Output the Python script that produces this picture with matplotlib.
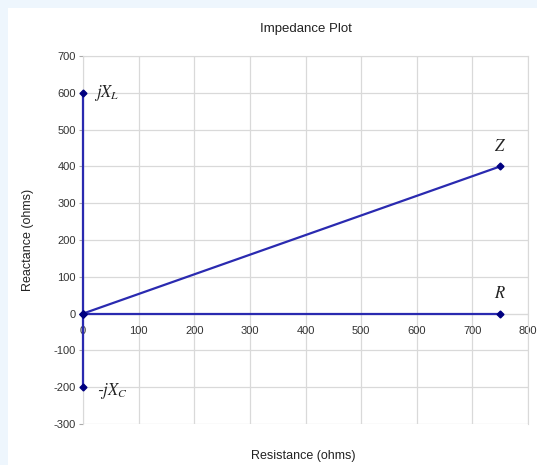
import matplotlib
matplotlib.use("Agg")
import matplotlib.pyplot as plt
from matplotlib.patches import Rectangle

plt.rcParams['font.family'] = ['Liberation Sans', 'DejaVu Sans']
plt.rcParams['mathtext.fontset'] = 'stix'
plt.rcParams['axes.unicode_minus'] = False

# --- phasor data (ohms) ---
phasor_names = ["Z", "R", "jXL", "-jXC"]
resistance = [750, 750, 0, 0]
reactance = [400, 0, 600, -200]
phasor_labels = [r"$Z$", r"$R$", r"$jX_L$", r"-$jX_C$"]
label_offsets = [(0, 9), (0, 9), (8, 0), (10, -3)]
label_align = [("center", "bottom"), ("center", "bottom"), ("left", "center"), ("left", "center")]

x_ticks = [0, 100, 200, 300, 400, 500, 600, 700, 800]
y_ticks = [-300, -200, -100, 0, 100, 200, 300, 400, 500, 600, 700]

line_col = "#2a2ab0"
mark_col = "#000080"
grid_col = "#d9d9d9"
text_col = "#333333"

fig = plt.figure(figsize=(5.37, 4.65), dpi=100)
fig.patch.set_facecolor("#eef6fd")
fig.patches.append(Rectangle((8 / 537, 0), 1, 1 - 8 / 465, transform=fig.transFigure,
                             facecolor="white", edgecolor="none", zorder=-5))

ax = fig.add_axes([83 / 537, 1 - 424 / 465, 445 / 537, 368 / 465])
ax.set_facecolor("white")
ax.set_zorder(2)

for x, y in zip(resistance, reactance):
    ax.plot([0, x], [0, y], "-", color=line_col, lw=1.6, zorder=3, clip_on=False)
    ax.plot([0, x], [0, y], "D", color=mark_col, ms=3.5, zorder=4, clip_on=False)

for x, y, lab, off, al in zip(resistance, reactance, phasor_labels, label_offsets, label_align):
    ax.annotate(lab, (x, y), xytext=off, textcoords="offset points",
                ha=al[0], va=al[1], fontsize=12, color="#222222", style="italic")

ax.set_xlim(0, 800)
ax.set_ylim(-300, 700)
ax.set_xticks(x_ticks)
ax.set_yticks(y_ticks)
ax.grid(True, color=grid_col, lw=0.9)
ax.set_axisbelow(True)

ax.spines["bottom"].set_position(("data", 0))
for s in ["left", "right", "top", "bottom"]:
    ax.spines[s].set_color(grid_col)
ax.tick_params(axis="x", length=0, pad=9, labelsize=8, labelcolor=text_col)
ax.tick_params(axis="y", length=3, color="#aaaaaa", pad=2, labelsize=8, labelcolor=text_col)

ax.set_title("Impedance Plot", fontsize=9.5, color="#222222", pad=17)
fig.text(303 / 537, 1 - 456 / 465, "Resistance (ohms)", ha="center", va="center",
         fontsize=9, color="#222222")
fig.text(28 / 537, 1 - 240 / 465, "Reactance (ohms)", ha="center", va="center",
         rotation=90, fontsize=9, color="#222222")

fig.savefig("out.png", dpi=100, facecolor=fig.get_facecolor())
